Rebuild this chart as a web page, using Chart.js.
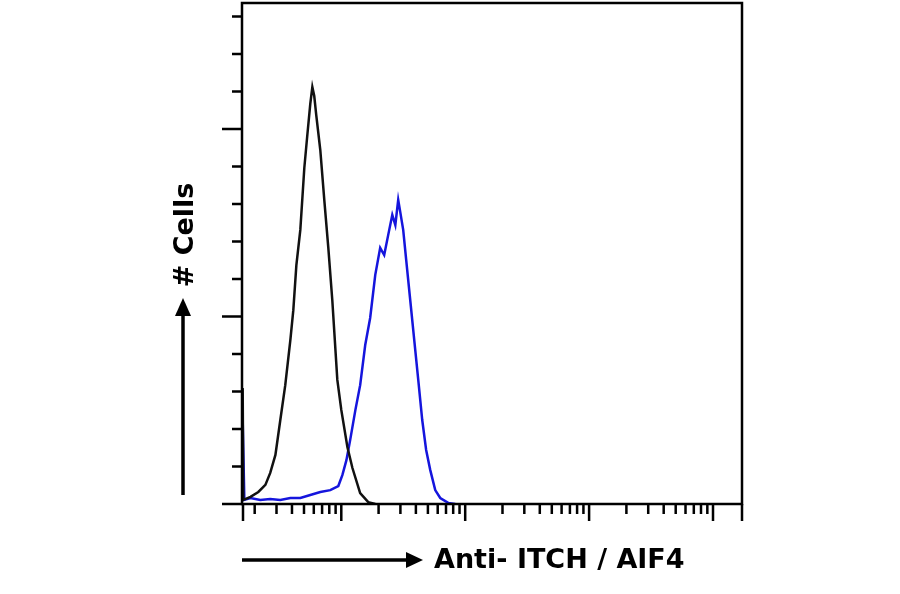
<!DOCTYPE html>
<html><head><meta charset="utf-8">
<script src="https://cdn.jsdelivr.net/npm/chart.js"></script>
<style>html,body{margin:0;padding:0;background:#fff;width:900px;height:594px;overflow:hidden}</style>
</head><body><canvas id="c" width="900" height="594"></canvas>
<script>
const controlX=[1.60,1.62,1.85,2.14,2.44,2.67,2.94,3.22,3.53,3.88,4.10,4.34,4.67,5.03,5.32,5.62,5.84,6.05,6.28,6.77,7.29,7.85,8.46,9.29,10.0,11.2,12.3,14.2,16.5,18.8];
const controlY=[3.09,0.11,0.19,0.32,0.51,0.83,1.31,2.24,3.17,4.37,5.17,6.37,7.31,8.96,9.84,10.67,11.12,10.88,10.37,9.44,8.11,6.85,5.44,3.31,2.51,1.52,0.96,0.29,0.05,0];
const stainX=[1.60,1.65,1.85,2.22,2.67,3.22,3.88,4.67,5.62,6.77,8.15,9.46,10.2,11.0,11.8,13.0,14.2,15.6,17.1,18.8,20.6,22.2,23.9,25.8,27.3,28.8,29.9,31.6,33.4,36.0,38.8,41.8,45.0,48.4,52.2,57.3,62.9,72.9,83.0];
const stainY=[2.24,0.11,0.16,0.11,0.13,0.11,0.16,0.16,0.24,0.32,0.37,0.48,0.77,1.17,1.71,2.51,3.17,4.24,4.96,6.11,6.83,6.64,7.17,7.71,7.44,8.11,7.79,7.31,6.51,5.44,4.37,3.31,2.24,1.44,0.91,0.37,0.16,0.03,0];
const yTicks=[0,1,2,3,4,5,6,7,8,9,10,11,12,13];
const yMajor=[0,5,10];
const xMajor=[10,100,1000,10000];
const xMinor=[2,3,4,5,6,7,8,9,20,30,40,50,60,70,80,90,200,300,400,500,600,700,800,900,2000,3000,4000,5000,6000,7000,8000,9000];
const xLabel='Anti- ITCH / AIF4', yLabel='# Cells';
const pts=(xs,ys)=>xs.map((x,i)=>({x:x,y:ys[i]}));
const axisPlugin={id:'ax',afterDraw(ch){
 const c=ch.ctx,a=ch.chartArea,xs=ch.scales.x,ys=ch.scales.y;
 c.save();c.strokeStyle='#000';c.lineWidth=2.5;
 c.strokeRect(a.left,a.top,a.right-a.left,a.bottom-a.top);
 c.beginPath();
 yTicks.forEach(v=>{const p=ys.getPixelForValue(v);const L=yMajor.includes(v)?20:10;c.moveTo(a.left,p);c.lineTo(a.left-L,p);});
 xMajor.forEach(v=>{const p=xs.getPixelForValue(v);c.moveTo(p,a.bottom);c.lineTo(p,a.bottom+17);});
 c.moveTo(a.left+1,a.bottom);c.lineTo(a.left+1,a.bottom+17);
 c.moveTo(a.right,a.bottom);c.lineTo(a.right,a.bottom+17);
 xMinor.forEach(v=>{const p=xs.getPixelForValue(v);if(p>a.left+3){c.moveTo(p,a.bottom);c.lineTo(p,a.bottom+10);}});
 c.stroke();
 c.lineWidth=3.5;c.fillStyle='#000';
 c.beginPath();c.moveTo(242,560);c.lineTo(410,560);c.stroke();
 c.beginPath();c.moveTo(423,560);c.lineTo(406,552);c.lineTo(406,568);c.closePath();c.fill();
 c.font='bold 27px "DejaVu Sans"';c.textBaseline='middle';c.textAlign='left';
 c.fillText(xLabel,434,561);
 c.beginPath();c.moveTo(183,495);c.lineTo(183,312);c.stroke();
 c.beginPath();c.moveTo(183,298);c.lineTo(175,316);c.lineTo(191,316);c.closePath();c.fill();
 c.translate(186,235);c.rotate(-Math.PI/2);c.textAlign='center';c.fillText(yLabel,0,0);
 c.restore();}};
new Chart(document.getElementById('c'),{type:'scatter',
 data:{datasets:[
  {data:pts(controlX,controlY),showLine:true,borderColor:'#111',borderWidth:2.5,pointRadius:0,tension:0},
  {data:pts(stainX,stainY),showLine:true,borderColor:'#1515dd',borderWidth:2.5,pointRadius:0,tension:0}]},
 options:{responsive:false,animation:false,
  layout:{padding:{left:242,right:158,top:3,bottom:90}},
  plugins:{legend:{display:false},tooltip:{enabled:false}},
  scales:{x:{type:'logarithmic',min:1.58,max:17140,display:false},
          y:{min:0,max:13.36,display:false}}},
 plugins:[axisPlugin]});
</script></body></html>
